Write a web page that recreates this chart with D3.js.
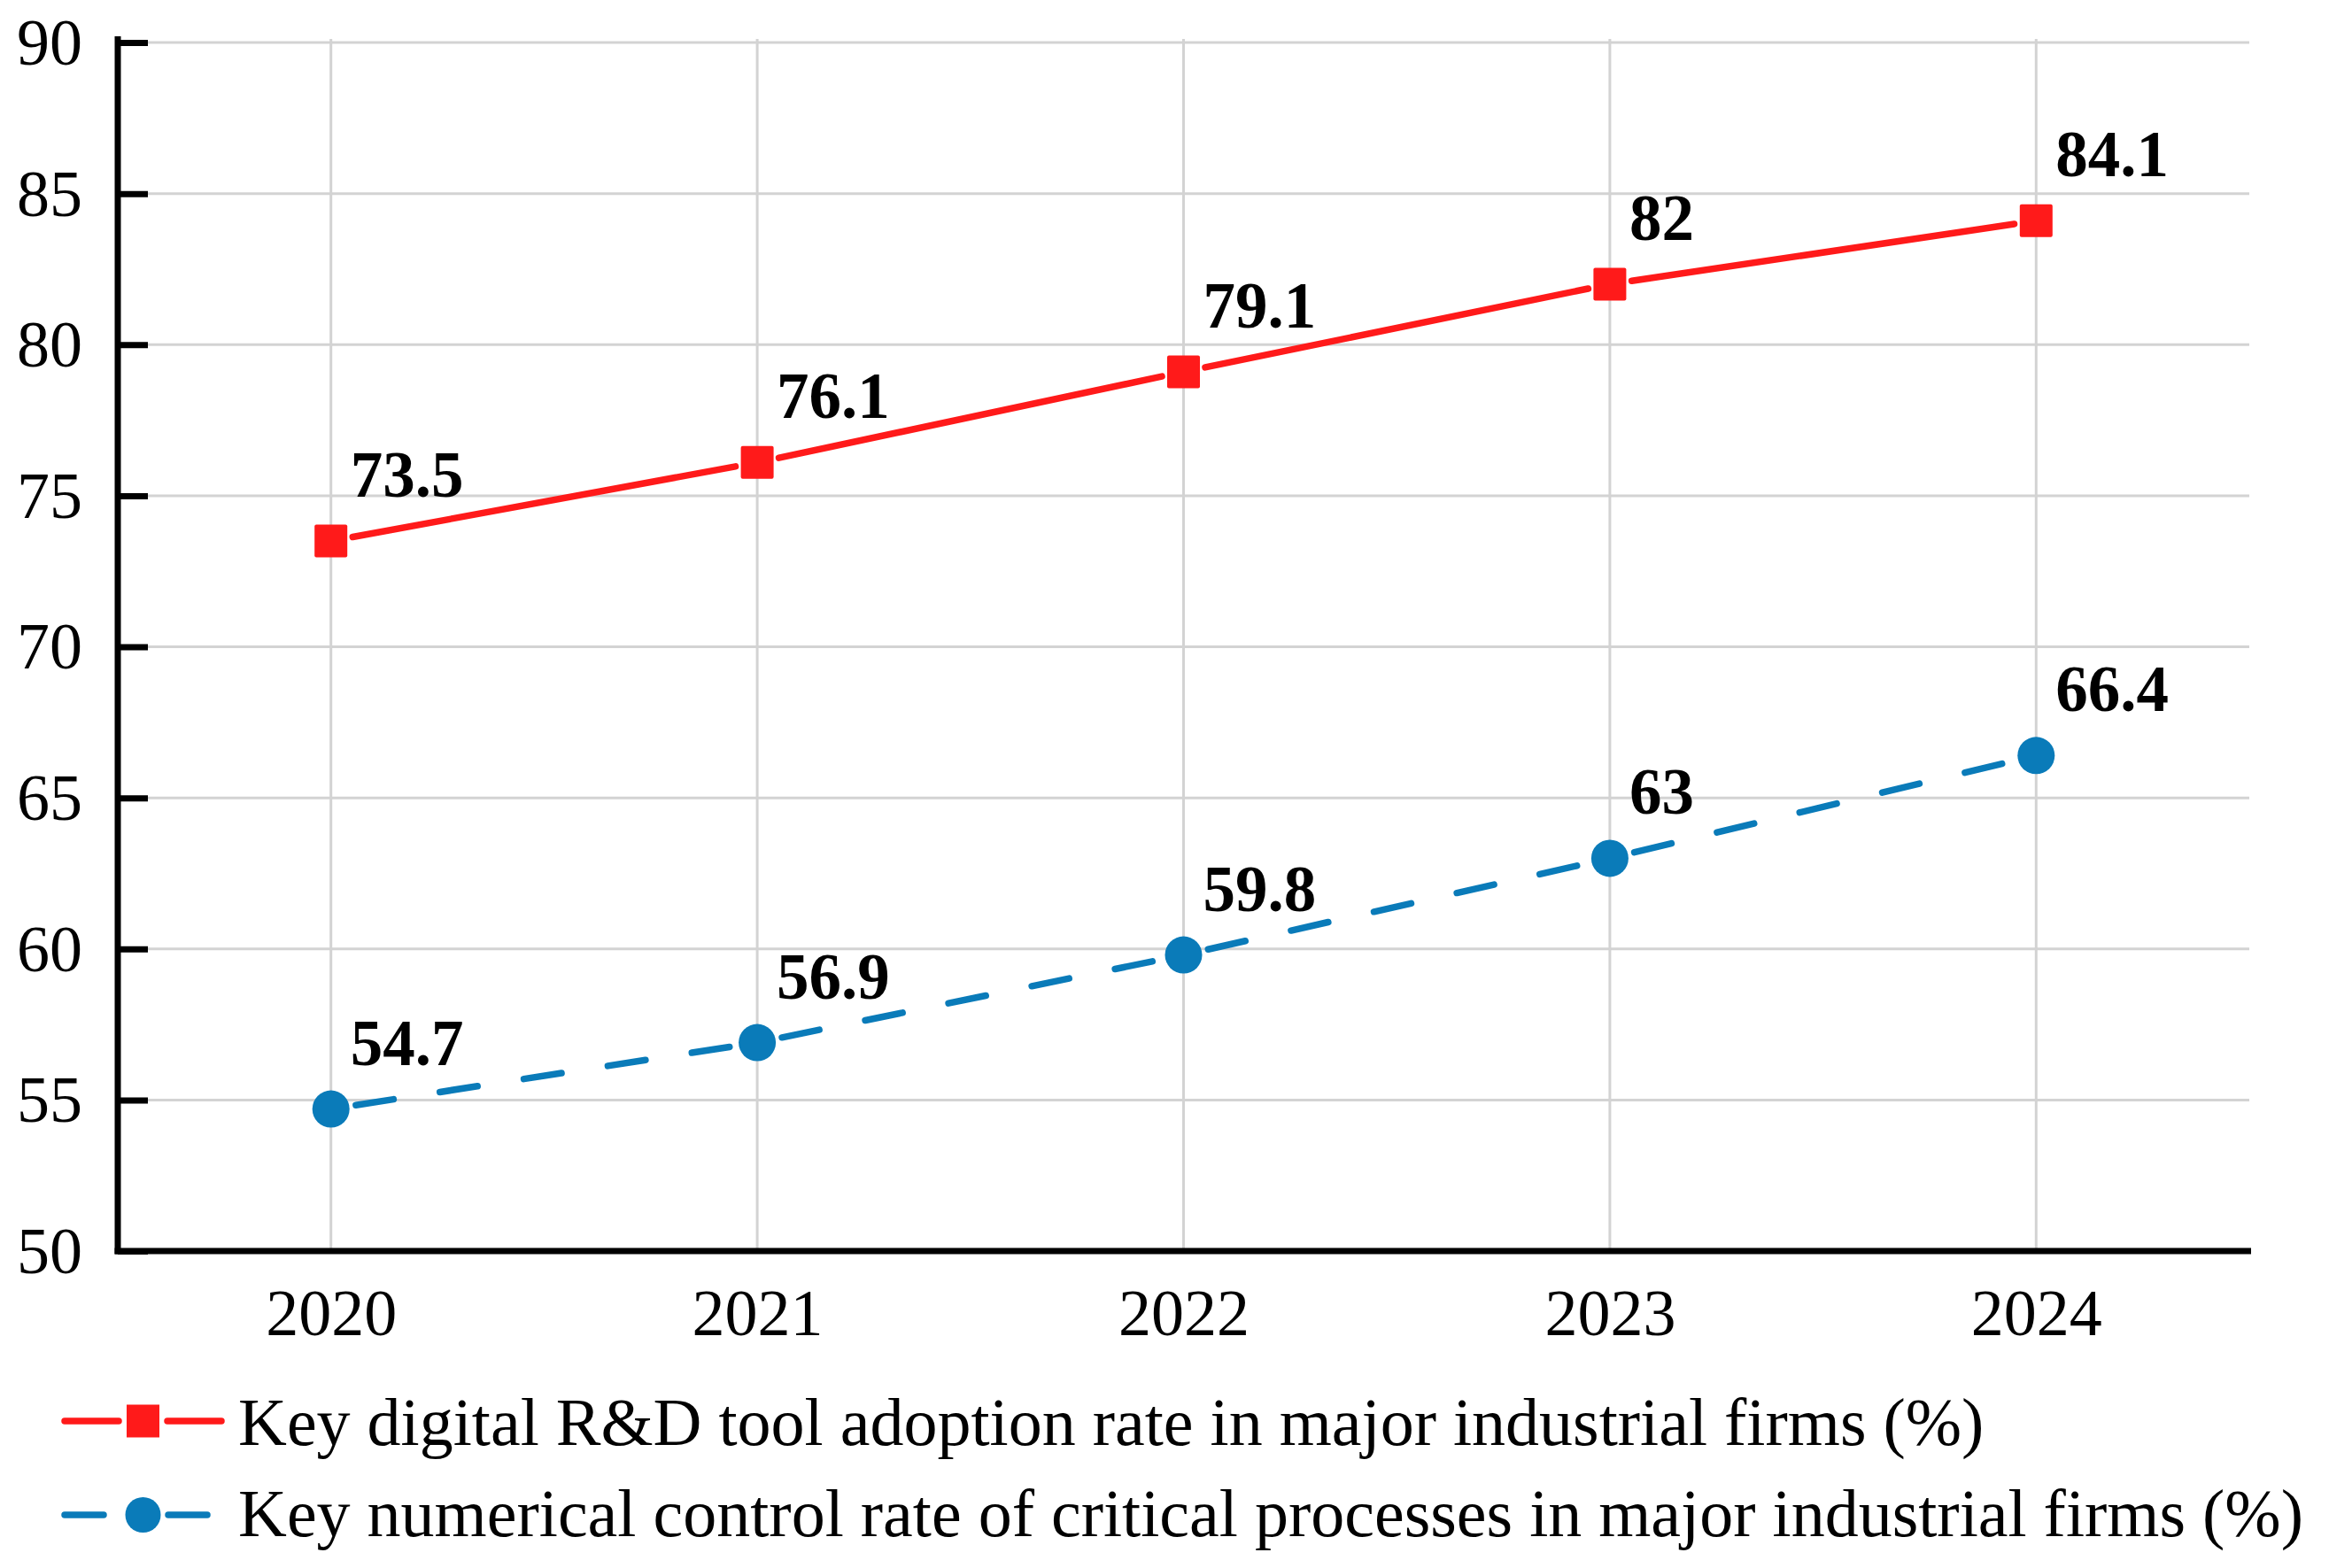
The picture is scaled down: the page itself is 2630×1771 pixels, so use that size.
<!DOCTYPE html>
<html><head><meta charset="utf-8">
<script src="https://cdn.jsdelivr.net/npm/d3@7/dist/d3.min.js"></script>
<style>html,body{margin:0;padding:0;background:#fff;}svg{display:block;}</style>
</head><body>
<script>
const years = ["2020","2021","2022","2023","2024"];
const seriesNames = [
  "Key digital R&D tool adoption rate in major industrial firms (%)",
  "Key numerical control rate of critical processes in major industrial firms (%)"
];
const rdAdoption = [73.5, 76.1, 79.1, 82, 84.1];
const ncRate = [54.7, 56.9, 59.8, 63, 66.4];
const yTicks = [50, 55, 60, 65, 70, 75, 80, 85, 90];

(function () {
const W = 2630, H = 1771;
const pLeft = 133, pRight = 2540, pTop = 48, pBottom = 1413;
const red = "#ff1a1a", blue = "#0a7bb9";
const font = "'Liberation Serif','Times New Roman',Times,serif";
const lw = 7.5;

const svg = d3.select("body").append("svg").attr("width", W).attr("height", H);

const x = d3.scalePoint().domain(years).range([pLeft, pRight]).padding(0.5);
const y = d3.scaleLinear().domain([50, 90]).range([pBottom, pTop]);

// grid
const g = svg.append("g");
g.selectAll(".hg").data(yTicks.filter(t => t > 50)).join("line")
  .attr("x1", pLeft).attr("x2", pRight).attr("y1", d => y(d)).attr("y2", d => y(d))
  .attr("stroke", "#d3d3d3").attr("stroke-width", 3);
g.selectAll(".vg").data(years).join("line")
  .attr("x1", d => x(d)).attr("x2", d => x(d)).attr("y1", pTop - 4).attr("y2", pBottom)
  .attr("stroke", "#d3d3d3").attr("stroke-width", 3);

// axes
const yAxis = svg.append("g").attr("transform", `translate(${pLeft},0)`)
  .call(d3.axisLeft(y).tickValues(yTicks).tickSize(-34).tickPadding(0).tickFormat(d3.format("d")));
yAxis.select(".domain").remove();
yAxis.selectAll(".tick line").attr("stroke", "#000").attr("stroke-width", 7);
yAxis.selectAll(".tick text").attr("x", -40).attr("dy", "0.33em")
  .attr("font-family", font).attr("font-size", 74).attr("fill", "#000");
svg.append("line").attr("x1", pLeft).attr("x2", pLeft).attr("y1", pTop - 7).attr("y2", pBottom + 3.5)
  .attr("stroke", "#000").attr("stroke-width", 7);

const xAxis = svg.append("g").attr("transform", `translate(0,${pBottom})`)
  .call(d3.axisBottom(x).tickSize(0).tickPadding(0));
xAxis.select(".domain").remove();
xAxis.selectAll(".tick text").attr("y", 95).attr("dy", 0)
  .attr("font-family", font).attr("font-size", 74).attr("fill", "#000");
svg.append("line").attr("x1", pLeft - 3.5).attr("x2", pRight + 2).attr("y1", pBottom).attr("y2", pBottom)
  .attr("stroke", "#000").attr("stroke-width", 7);

// series
function drawSeries(vals, color, dashed, marker) {
  const pts = vals.map((v, i) => [x(years[i]), y(v)]);
  const gap = 25;
  for (let i = 0; i < pts.length - 1; i++) {
    const [x0, y0] = pts[i], [x1, y1] = pts[i + 1];
    const dx = x1 - x0, dy = y1 - y0, L = Math.hypot(dx, dy);
    const ux = dx / L, uy = dy / L;
    const line = svg.append("line")
      .attr("x1", x0 + ux * gap).attr("y1", y0 + uy * gap)
      .attr("x2", x1 - ux * gap).attr("y2", y1 - uy * gap)
      .attr("stroke", color).attr("stroke-width", lw).attr("stroke-linecap", "round");
    if (dashed) line.attr("stroke-dasharray", "43 53").attr("stroke-dashoffset", -3.5);
  }
  pts.forEach(([px, py]) => {
    if (marker === "square") {
      svg.append("rect").attr("x", px - 18.5).attr("y", py - 18.5).attr("width", 37).attr("height", 37)
        .attr("rx", 2).attr("fill", color);
    } else {
      svg.append("circle").attr("cx", px).attr("cy", py).attr("r", 21).attr("fill", color);
    }
  });
  svg.append("g").selectAll("text").data(vals).join("text")
    .attr("x", (d, i) => x(years[i]) + 22).attr("y", d => y(d) - 50)
    .attr("font-family", font).attr("font-weight", "bold").attr("font-size", 73).attr("fill", "#000")
    .text(d => String(d));
}
drawSeries(rdAdoption, red, false, "square");
drawSeries(ncRate, blue, true, "circle");

// legend
const lg = svg.append("g");
const r1 = 1605, r2 = 1711;
lg.append("line").attr("x1", 73).attr("x2", 134).attr("y1", r1).attr("y2", r1)
  .attr("stroke", red).attr("stroke-width", lw).attr("stroke-linecap", "round");
lg.append("line").attr("x1", 189).attr("x2", 250).attr("y1", r1).attr("y2", r1)
  .attr("stroke", red).attr("stroke-width", lw).attr("stroke-linecap", "round");
lg.append("rect").attr("x", 143).attr("y", r1 - 18.5).attr("width", 37).attr("height", 37).attr("fill", red);
lg.append("text").attr("x", 269).attr("y", 1632).attr("font-family", font).attr("font-size", 76)
  .attr("fill", "#000").text(seriesNames[0]);
lg.append("line").attr("x1", 73).attr("x2", 117).attr("y1", r2).attr("y2", r2)
  .attr("stroke", blue).attr("stroke-width", lw).attr("stroke-linecap", "round");
lg.append("line").attr("x1", 190).attr("x2", 234).attr("y1", r2).attr("y2", r2)
  .attr("stroke", blue).attr("stroke-width", lw).attr("stroke-linecap", "round");
lg.append("circle").attr("cx", 161.5).attr("cy", r2).attr("r", 20).attr("fill", blue);
lg.append("text").attr("x", 269).attr("y", 1735).attr("font-family", font).attr("font-size", 76)
  .attr("fill", "#000").text(seriesNames[1]);
})();
</script>
</body></html>
